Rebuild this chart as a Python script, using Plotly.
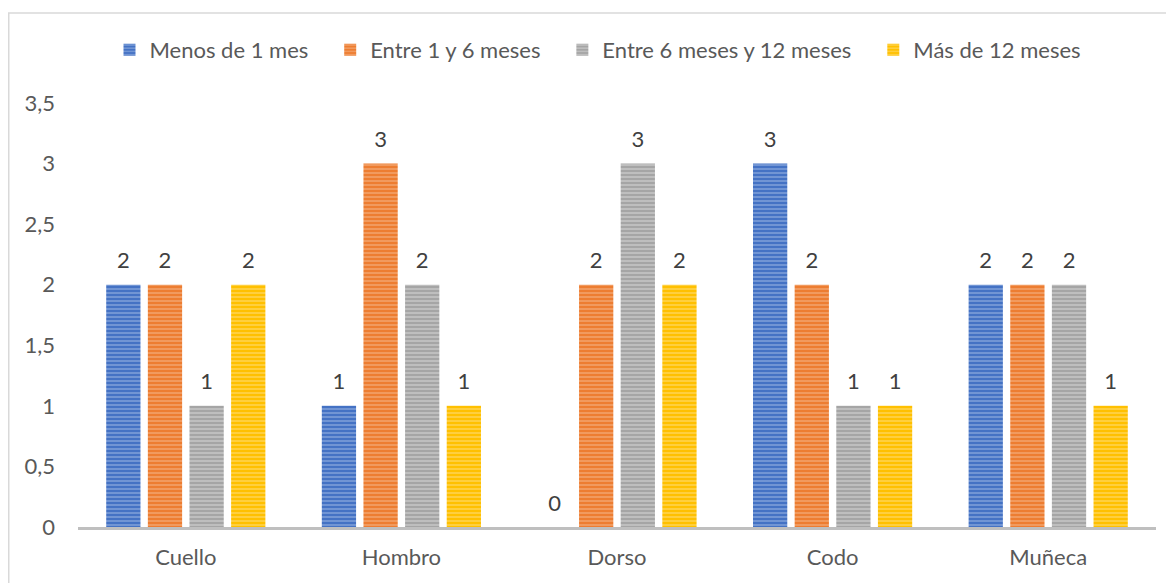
import plotly.graph_objects as go

categories = ["Cuello", "Hombro", "Dorso", "Codo", "Muñeca"]
series_names = ["Menos de 1 mes", "Entre 1 y 6 meses", "Entre 6 meses y 12 meses", "Más de 12 meses"]
menos_1 = [2, 1, 0, 3, 2]
entre_1_6 = [2, 3, 2, 2, 2]
entre_6_12 = [1, 2, 3, 1, 2]
mas_12 = [2, 1, 2, 1, 1]
y_ticks = [0, 0.5, 1, 1.5, 2, 2.5, 3, 3.5]
y_tick_labels = ["0", "0,5", "1", "1,5", "2", "2,5", "3", "3,5"]

colors = ["#4472C4", "#ED7D31", "#A5A5A5", "#FFC000"]
light = ["#A9C0E8", "#F6BC95", "#DCDCDC", "#FFE38A"]
values = [menos_1, entre_1_6, entre_6_12, mas_12]

FONT = "Lato, Noto Sans, sans-serif"
FS = 22
GAP = 0.2275
PAD = "\u00a0\u00a0\u00a0"
fig = go.Figure()
for i, (name, vals, c, lc) in enumerate(zip(series_names, values, colors, light)):
    fig.add_trace(go.Bar(
        x=categories, y=vals, name=name + (PAD if i < len(series_names) - 1 else ""),
        offsetgroup=str(i),
        marker=dict(color=c, line=dict(width=0),
                    pattern=dict(shape="-", fgcolor=lc, bgcolor=c, size=4, solidity=0.45, fillmode="overlay")),
    ))
for i, vals in enumerate(values):
    fig.add_trace(go.Scatter(
        x=categories, y=vals, mode="markers+text", offsetgroup=str(i),
        marker=dict(size=16, opacity=0), showlegend=False, hoverinfo="skip",
        text=[str(v) for v in vals], textposition="top center",
        textfont=dict(size=FS, color="#404040", family=FONT), cliponaxis=False,
    ))

# page body has an 8px margin, so figure coords = screen coords - 8
L, R, T, B = 70, 18, 95, 56
W, H = 1166, 575
pw, ph = W - L - R, H - T - B
fig.update_layout(
    width=W, height=H,
    margin=dict(l=L, r=R, t=T, b=B, autoexpand=False),
    paper_bgcolor="white", plot_bgcolor="white",
    barmode="group", bargap=GAP, bargroupgap=0.177,
    scattermode="group", scattergap=GAP,
    font=dict(family=FONT, size=FS, color="#595959"),
    legend=dict(orientation="h", x=(590 - L) / pw, xanchor="center", y=1 + (95 - 42) / ph, yanchor="middle",
                font=dict(size=FS, color="#595959"), itemwidth=30, traceorder="normal"),
    xaxis=dict(showgrid=False, showline=True, linecolor="#BFBFBF", linewidth=3, ticks="",
               automargin=False, ticklabelstandoff=9, tickfont=dict(size=FS, color="#595959")),
    yaxis=dict(range=[0, 3.5], tickvals=y_ticks, ticktext=y_tick_labels, showgrid=False,
               showline=False, zeroline=False, ticks="", ticklabelstandoff=22, automargin=False,
               tickfont=dict(size=FS, color="#595959")),
    showlegend=True,
    shapes=[dict(type="rect", xref="paper", yref="paper",
                 x0=(0.75 - L) / pw, x1=(W + 10 - L) / pw,
                 y0=-(B + 10) / ph, y1=1 + (T - 5) / ph,
                 line=dict(color="#D9D9D9", width=1.5), fillcolor="rgba(0,0,0,0)", layer="below")],
)
fig.write_html("out.html")
